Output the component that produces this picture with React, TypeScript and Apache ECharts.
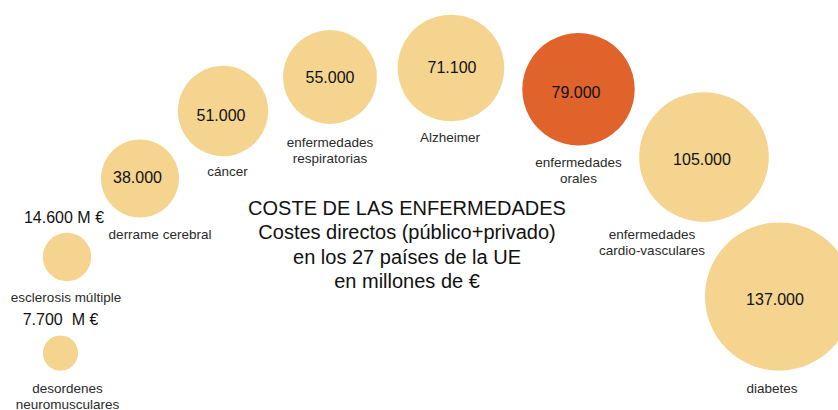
import React, { useEffect, useRef } from "react";
import * as echarts from "echarts";

// ---- data ----
const diseases = [
  "desordenes\nneuromusculares",
  "esclerosis múltiple",
  "derrame cerebral",
  "cáncer",
  "enfermedades\nrespiratorias",
  "Alzheimer",
  "enfermedades\norales",
  "enfermedades\ncardio-vasculares",
  "diabetes",
];
// direct costs, millions of €
const costs = [7700, 14600, 38000, 51000, 55000, 71100, 79000, 105000, 137000];
const unitSuffix = ["  M €", " M €", "", "", "", "", "", "", ""];
const highlighted = "enfermedades\norales";

const titleLines = [
  "COSTE DE LAS ENFERMEDADES",
  "Costes directos (público+privado)",
  "en los 27 países de la UE",
  "en millones de €",
];

// ---- layout (arc arrangement of bubbles, in chart units) ----
const bubbleX = [60.5, 67, 140, 223, 330, 451, 578.5, 704, 779];
const bubbleY = [353, 257, 178.5, 111, 77, 68, 89.3, 157, 296.5];
const valueLabelOffset = [
  [0, -34], [-3, -40], [-2.5, -1], [-2, 4], [0, 0], [1, -1], [-2.5, 3], [-2, 2], [-4, 3],
];
const nameLabelOffset = [
  [7, 43], [-1, 40], [20, 55.5], [4.5, 60], [0, 73.5], [-1, 69.5], [0, 81.5], [-52, 85], [-7, 91.5],
];

const LIGHT = "#F5D48F";
const RED = "#E0632B";
const FONT = '"Liberation Sans", Arial, sans-serif';

const fmt = (v: number) => String(v).replace(/\B(?=(\d{3})+(?!\d))/g, ".");

export default function App() {
  const ref = useRef<HTMLDivElement>(null);
  useEffect(() => {
    if (!ref.current) return;
    const chart = echarts.init(ref.current, undefined, { renderer: "svg" });

    const bubbleData = diseases.map((name, i) => ({
      name,
      value: [bubbleX[i], bubbleY[i], costs[i]],
      itemStyle: { color: name === highlighted ? RED : LIGHT, opacity: 1 },
      label: {
        show: true,
        position: "inside",
        offset: valueLabelOffset[i],
        formatter: () => fmt(costs[i]) + unitSuffix[i],
      },
    }));

    const nameData = diseases.map((name, i) => ({
      name,
      value: [bubbleX[i], bubbleY[i], costs[i]],
      label: {
        show: true,
        position: "inside",
        offset: nameLabelOffset[i],
        formatter: () => name,
      },
    }));

    chart.setOption({
      animation: false,
      backgroundColor: "#ffffff",
      grid: { left: 0, right: 0, top: 0, bottom: 0 },
      xAxis: { type: "value", min: 0, max: 838, show: false },
      yAxis: { type: "value", min: 0, max: 410, inverse: true, show: false },
      series: [
        {
          type: "scatter",
          clip: false,
          data: bubbleData,
          symbol: "circle",
          symbolSize: (v: number[]) => 0.4 * Math.sqrt(v[2]),
          itemStyle: { opacity: 1 },
          label: {
            color: "#111111",
            fontSize: 16,
            fontFamily: FONT,
          },
          emphasis: { disabled: true },
          z: 2,
        },
        {
          type: "scatter",
          data: nameData,
          symbolSize: 0,
          itemStyle: { color: "transparent", opacity: 1 },
          label: {
            color: "#2a2a2a",
            fontSize: 13.5,
            lineHeight: 16,
            fontFamily: FONT,
            align: "center",
          },
          emphasis: { disabled: true },
          z: 3,
        },
      ],
      graphic: titleLines.map((t, i) => ({
        type: "text",
        x: 407,
        y: 208 + i * 24.3,
        style: {
          text: t,
          align: "center",
          verticalAlign: "middle",
          font: `20px ${FONT}`,
          fill: "#111111",
        },
      })),
    });
    return () => chart.dispose();
  }, []);

  return (
    <div
      ref={ref}
      style={{ position: "absolute", left: 0, top: 0, width: 838, height: 410 }}
    />
  );
}
